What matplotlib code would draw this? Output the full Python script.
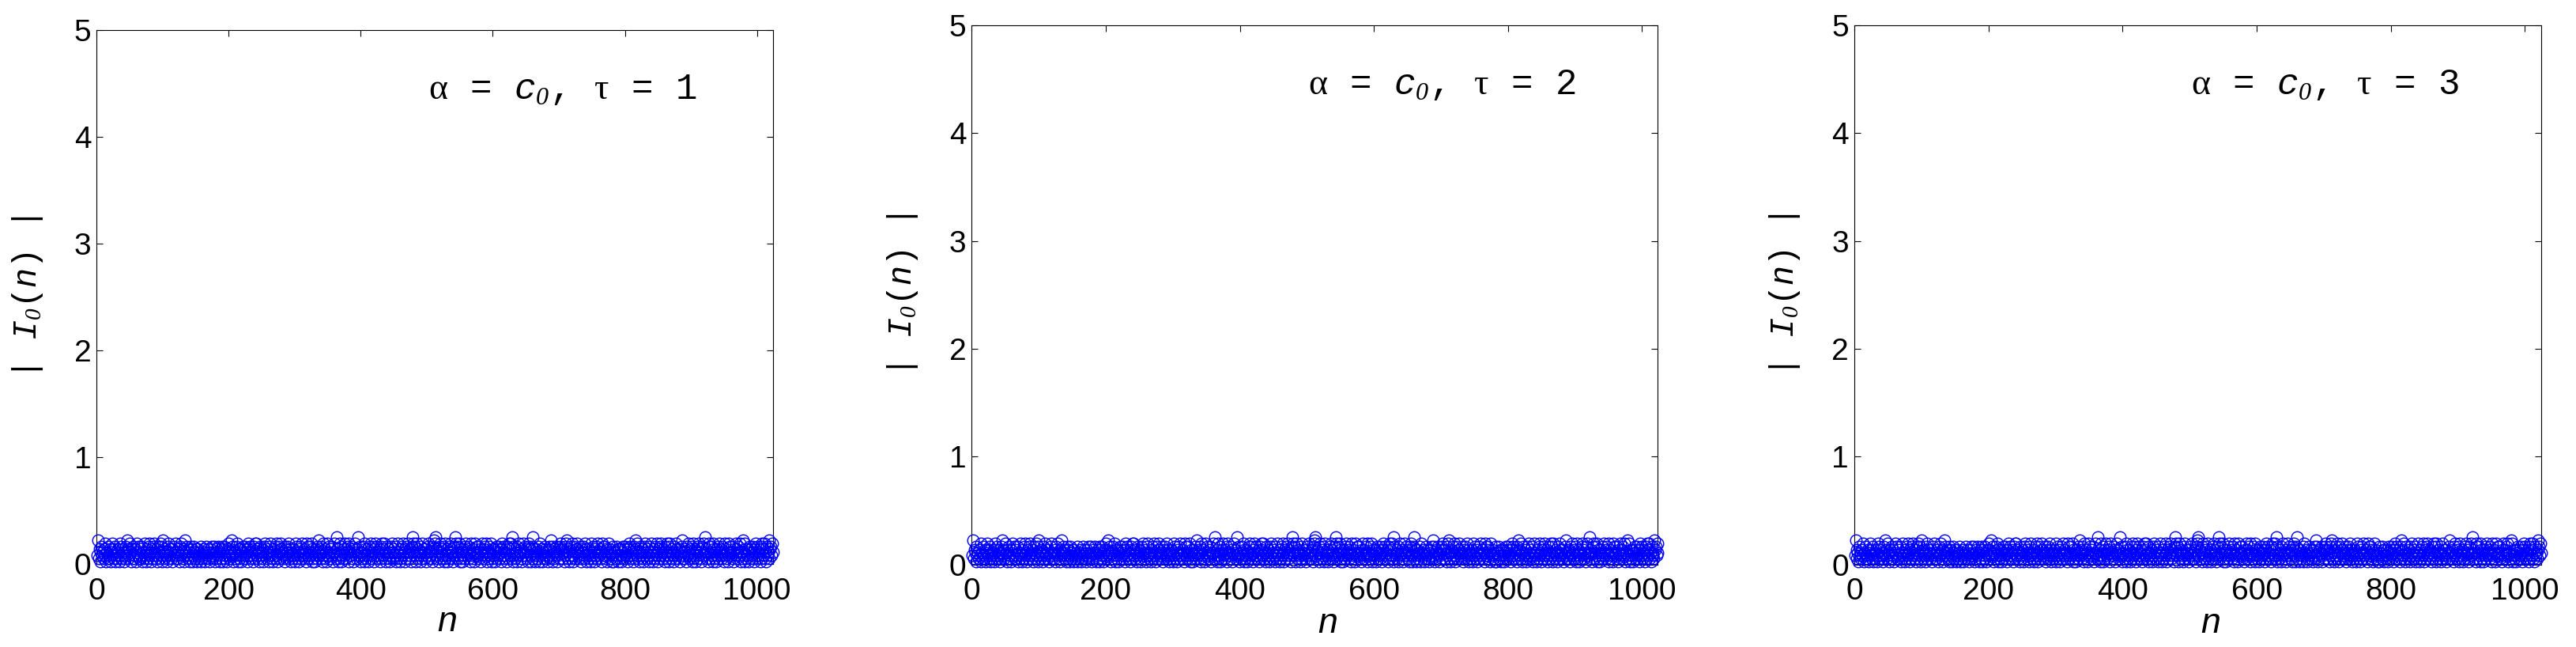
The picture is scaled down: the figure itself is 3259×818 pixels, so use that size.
import numpy as np
import matplotlib
matplotlib.use("Agg")
import matplotlib.pyplot as plt

# |I_0(n)|, one digit per sample, 64 samples per row
# value = digit * step
step = 0.028
I0_rows = [
    "38254163" "42537142" "63251473" "52614325" "41736254" "31264852" "37415263" "25147362",
    "25361427" "34152637" "41526374" "25316427" "36184253" "41627354" "25136472" "34251637",
    "42513846" "35241625" "31642531" "52436124" "35142635" "24153624" "36125436" "41352615",
    "36241537" "25483614" "42637152" "35146253" "62415736" "24351627" "73524163" "42516374",
    "52416373" "24153627" "31642575" "42361524" "63725143" "25417362" "41536274" "35241763",
    "24637152" "41536248" "35264173" "52417364" "25361447" "42935127" "36142573" "25461734",
    "36251473" "52493614" "42637152" "35146273" "62415736" "24351627" "53724163" "42516374",
    "25361427" "34152637" "41526374" "25316497" "36174253" "41627354" "25136472" "34251687",
    "93524167" "42536172" "35142637" "52416397" "24637152" "41536274" "35264173" "52417364",
    "36241537" "25463714" "42637152" "35146253" "62415736" "24351627" "53729163" "42516374",
    "42513746" "35241675" "31692531" "52436174" "35142635" "24153628" "36125436" "41352675",
    "52416378" "24153627" "31642575" "42361524" "63725143" "25417362" "41536274" "35241763",
    "36251473" "52413614" "42635152" "35146253" "62415736" "24351628" "53724163" "42516374",
    "25361427" "34152637" "41526374" "25316427" "36174253" "41627354" "25134682" "34251637",
    "42536172" "35142637" "52416374" "39524167" "24637152" "41536274" "35264173" "52417364",
    "36241537" "25463714" "42837152" "35146253" "62415736" "24351627" "53724163" "42856374",
]
I0_abs = [int(c) * step for row in I0_rows for c in row]
n_vals = list(range(1, len(I0_abs) + 1))

tau_values = [1, 2, 3]
x_ticks = [0, 200, 400, 600, 800, 1000]
y_ticks = [0, 1, 2, 3, 4, 5]

plt.rcParams['mathtext.fontset'] = 'custom'
plt.rcParams['mathtext.rm'] = 'Liberation Mono'
plt.rcParams['mathtext.it'] = 'Liberation Mono:italic'
plt.rcParams['mathtext.sf'] = 'Liberation Serif'
plt.rcParams['mathtext.bf'] = 'Liberation Serif:italic'   # plain oblique zero for subscripts

fig = plt.figure(figsize=(32.59, 8.18), dpi=100)

boxes = [
    [0.03756, 0.1280, 0.2624, 0.8252],
    [0.37726, 0.1274, 0.2663, 0.8337],
    [0.71985, 0.1274, 0.2666, 0.8337],
]

sp = r'\ \ \,'
for box, tau in zip(boxes, tau_values):
    ax = fig.add_axes(box)
    ax.plot(n_vals, I0_abs, 'o', ms=10.5, mfc='none', mec='b', mew=1.0,
            linestyle='none', clip_on=False, zorder=3)
    ax.set_xlim(0, 1024)
    ax.set_ylim(0, 5)
    ax.set_xticks(x_ticks)
    ax.set_yticks(y_ticks)
    ax.tick_params(direction='in', length=6, width=0.8, top=True, right=True,
                   labelsize=28)
    ax.tick_params(axis='x', pad=12)
    ax.tick_params(axis='y', pad=5)
    for lab in ax.get_xticklabels() + ax.get_yticklabels():
        lab.set_family('Liberation Sans')
    for s in ax.spines.values():
        s.set_linewidth(0.8)

    ax.set_xlabel(r'$n$', fontsize=32)
    ax.xaxis.set_label_coords(0.518, -0.126)
    ax.xaxis.label.set_va('baseline')
    ax.set_ylabel(r'$|\ \ \ I_{\mathbf{0}}(n)\ \ \ |$', fontsize=30)
    ax.yaxis.set_label_coords(-0.076, 0.5)

    title = (r'$\mathsf{\alpha}\mathrm{' + sp + '=' + sp + r'}c_{\mathbf{0}}\mathrm{,' + sp + '}'
             r'\mathsf{\tau}\mathrm{' + sp + '=' + sp + '%d}$' % tau)
    ax.text(502, 4.36, title, fontsize=33, ha='left', va='baseline')

fig.savefig('out.png', dpi=100)
